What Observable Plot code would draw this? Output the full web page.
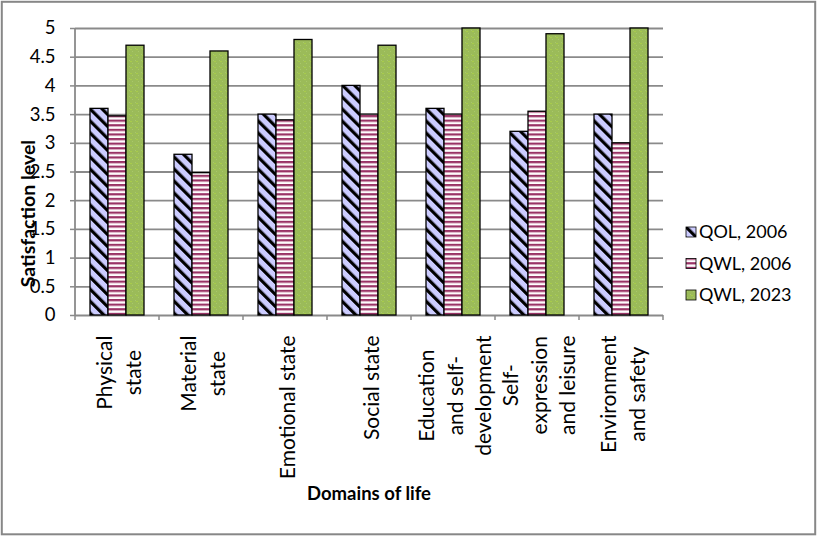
<!DOCTYPE html>
<html><head><meta charset="utf-8">
<script src="https://cdn.jsdelivr.net/npm/d3@7"></script>
<script src="https://cdn.jsdelivr.net/npm/@observablehq/plot@0.6"></script>
<style>
body{margin:0;background:#fff;}
#wrap{position:relative;width:818px;height:537px;}
</style></head><body><div id="wrap"></div>
<script>
// ---- data ----
const categories = ["Physical\nstate", "Material\nstate", "Emotional state", "Social state", "Education\nand self-\ndevelopment", "Self-\nexpression\nand leisure", "Environment\nand safety"];
const seriesNames = ["QOL, 2006", "QWL, 2006", "QWL, 2023"];
const qol2006 = [3.6, 2.8, 3.5, 4.0, 3.6, 3.2, 3.5];
const qwl2006 = [3.47, 2.48, 3.4, 3.5, 3.5, 3.55, 3.0];
const qwl2023 = [4.7, 4.6, 4.8, 4.7, 5.0, 4.9, 5.0];
const yTicks = [0, 0.5, 1, 1.5, 2, 2.5, 3, 3.5, 4, 4.5, 5];
const yTitle = "Satisfaction level";
const xTitle = "Domains of life";

const seriesValues = [qol2006, qwl2006, qwl2023];
const rows = categories.flatMap((c, i) => seriesNames.map((s, k) => ({category: c, series: s, value: seriesValues[k][i]})));

const FONT = "Lato, 'Open Sans', sans-serif";
const GRID = "#8a8a8a";

const chart = Plot.plot({
  width: 818, height: 537,
  marginLeft: 72, marginRight: 153, marginTop: 28, marginBottom: 222,
  style: {fontFamily: FONT, fontSize: "18px", color: "#000", background: "transparent", overflow: "visible"},
  fx: {domain: categories, padding: 0, axis: null},
  x: {domain: seriesNames, paddingInner: 0, paddingOuter: 0.73, axis: null},
  y: {domain: [0, 5], axis: null},
  color: {domain: seriesNames, range: ["url(#patQOL)", "url(#patQWL06)", "url(#patQWL23)"]},
  marks: [
    Plot.ruleY(yTicks, {stroke: GRID, strokeWidth: 1.8}),
    Plot.barY(rows, {fx: "category", x: "series", y: "value", fill: "series", stroke: "#000", strokeWidth: 1.3}),
    Plot.axisY({ticks: yTicks, tickFormat: d => String(d), tickSize: 5, tickPadding: 15, stroke: GRID, strokeWidth: 1.5, fontSize: 18.5, label: null}),
    Plot.text(categories, {fx: d => d, text: d => d, frameAnchor: "bottom", rotate: -90, textAnchor: "end", lineAnchor: "middle", dy: 20, lineHeight: 1.35, fontSize: 21, className: "xlab"})
  ]
});
document.getElementById("wrap").appendChild(chart);

const svg = d3.select(chart);
// patterns
const defs = svg.insert("defs", ":first-child");
const p0 = defs.append("pattern").attr("id", "patQOL").attr("patternUnits", "userSpaceOnUse")
  .attr("width", 8.5).attr("height", 8.5).attr("patternTransform", "rotate(-45)");
p0.append("rect").attr("width", 8.5).attr("height", 8.5).attr("fill", "#ccccff");
p0.append("rect").attr("width", 3.2).attr("height", 8.5).attr("fill", "#000");
const p1 = defs.append("pattern").attr("id", "patQWL06").attr("patternUnits", "userSpaceOnUse")
  .attr("width", 4.6).attr("height", 4.6);
p1.append("rect").attr("width", 4.6).attr("height", 4.6).attr("fill", "#fff");
p1.append("rect").attr("y", 0).attr("width", 4.6).attr("height", 2.2).attr("fill", "#993366");
p1.append("rect").attr("y", 2.2).attr("width", 4.6).attr("height", 0.6).attr("fill", "#d7a3ba");
const p2 = defs.append("pattern").attr("id", "patQWL23").attr("patternUnits", "userSpaceOnUse")
  .attr("width", 6).attr("height", 6);
p2.append("rect").attr("width", 6).attr("height", 6).attr("fill", "#9bbb59");
p2.append("rect").attr("x", 0).attr("y", 0).attr("width", 1).attr("height", 1).attr("fill", "#a9c86a");
p2.append("rect").attr("x", 3).attr("y", 3).attr("width", 1).attr("height", 1).attr("fill", "#a9c86a");
p2.append("rect").attr("x", 1.5).attr("y", 1).attr("width", 1).attr("height", 1).attr("fill", "#b6dd3c");

// center multi-line x labels on each other
svg.selectAll(".xlab text").each(function() {
  const ts = d3.select(this).selectAll("tspan");
  if (ts.empty()) return;
  let L = 0;
  ts.each(function() { L = Math.max(L, this.getComputedTextLength()); });
  d3.select(this).attr("text-anchor", "middle");
  ts.attr("x", -L / 2);
});

const fx = chart.scale("fx"), y = chart.scale("y");
const y0 = y.apply(0), y5 = y.apply(5);
const left = fx.apply(categories[0]);
const bounds = categories.map(c => fx.apply(c)).concat([fx.apply(categories[categories.length - 1]) + fx.bandwidth]);
const deco = svg.append("g");
deco.append("line").attr("x1", left).attr("x2", left).attr("y1", y5).attr("y2", y0).attr("stroke", GRID).attr("stroke-width", 1.8);
deco.selectAll(".bt").data(bounds).join("line").attr("x1", d => d).attr("x2", d => d).attr("y1", y0).attr("y2", y0 + 5).attr("stroke", GRID).attr("stroke-width", 1.5);
const right = bounds[bounds.length - 1];

// titles
deco.append("text").attr("transform", `translate(35,${(y0 + y5) / 2 + 42}) rotate(-90)`).attr("text-anchor", "middle")
  .attr("font-weight", "bold").attr("font-size", 19.5).attr("font-family", FONT).attr("fill", "#000").text(yTitle);
deco.append("text").attr("x", (left + right) / 2).attr("y", 500).attr("text-anchor", "middle")
  .attr("font-weight", "bold").attr("font-size", 18.5).attr("font-family", FONT).attr("fill", "#000").text(xTitle);

// legend
const lg = deco.append("g").attr("font-family", FONT).attr("font-size", 18).attr("text-anchor", "start");
seriesNames.forEach((s, k) => {
  const cy = 232 + k * 31.5;
  lg.append("rect").attr("x", 686).attr("y", cy - 5).attr("width", 10).attr("height", 10).attr("fill", `url(#${["patQOL","patQWL06","patQWL23"][k]})`).attr("stroke", "#000").attr("stroke-width", 0.8);
  lg.append("text").attr("x", 699).attr("y", cy).attr("dy", "0.35em").attr("fill", "#000").text(s);
});

// outer border
deco.append("rect").attr("x", 1.8).attr("y", 1.8).attr("width", 813.4).attr("height", 532.5).attr("fill", "none").attr("stroke", "#878787").attr("stroke-width", 2);
</script></body></html>
